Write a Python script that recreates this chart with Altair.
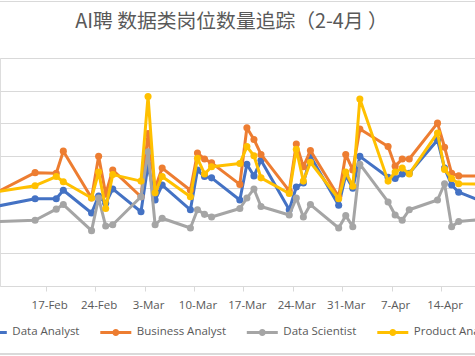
import altair as alt
import pandas as pd

dates = ["2019-02-08", "2019-02-15", "2019-02-18", "2019-02-19", "2019-02-23", "2019-02-24", "2019-02-25", "2019-02-26",
         "2019-03-02", "2019-03-03", "2019-03-04", "2019-03-05", "2019-03-09", "2019-03-10", "2019-03-11", "2019-03-12",
         "2019-03-16", "2019-03-17", "2019-03-18", "2019-03-19", "2019-03-23", "2019-03-24", "2019-03-25", "2019-03-26",
         "2019-03-30", "2019-03-31", "2019-04-01", "2019-04-02", "2019-04-06", "2019-04-07", "2019-04-08", "2019-04-09",
         "2019-04-13", "2019-04-14", "2019-04-15", "2019-04-16", "2019-04-20"]

data_analyst = [119, 134, 134, 147, 112, 138, 127, 149, 114, 186, 132, 155, 117, 178, 168, 166,
                132, 187, 169, 193, 117, 152, 158, 199, 124, 170, 150, 199, 167, 165, 172, 173,
                224, 181, 155, 144, 127]
business_analyst = [135, 174, 173, 207, 135, 199, 141, 178, 137, 234, 150, 181, 147, 204, 195, 189,
                    156, 243, 225, 202, 146, 218, 183, 208, 137, 202, 178, 241, 214, 184, 195, 195,
                    250, 213, 173, 169, 169]
data_scientist = [98, 101, 118, 125, 85, 135, 92, 94, 137, 206, 94, 104, 89, 117, 110, 106,
                  119, 135, 149, 122, 109, 135, 106, 125, 89, 108, 91, 187, 129, 109, 101, 117,
                  132, 157, 91, 99, 103]
product_analyst = [142, 154, 168, 160, 135, 175, 119, 171, 161, 291, 143, 168, 137, 196, 172, 183,
                   188, 214, 200, 166, 142, 210, 161, 190, 134, 175, 153, 287, 161, 175, 181, 172,
                   235, 179, 165, 157, 156]

series_names = ["Data Analyst", "Business Analyst", "Data Scientist", "Product Analyst"]
series_values = [data_analyst, business_analyst, data_scientist, product_analyst]
colors = ["#4472C4", "#ED7D31", "#A5A5A5", "#FFC000"]

tick_dates = [("feb", 10), ("feb", 17), ("feb", 24), ("mar", 3), ("mar", 10), ("mar", 17),
              ("mar", 24), ("mar", 31), ("apr", 7), ("apr", 14), ("apr", 21)]
y_grid = [50, 100, 150, 200, 250, 300, 350]

title_text = "AI聘 数据类岗位数量追踪（2-4月 ）"

rows = []
for name, vals in zip(series_names, series_values):
    for d, v in zip(dates, vals):
        rows.append({"date": d, "series": name, "count": v})
df = pd.DataFrame(rows)

GRAY = "#D9D9D9"
TXT = "#595959"

x_enc = alt.X(
    "date:T",
    scale=alt.Scale(
        type="utc",
        domain=[alt.DateTime(year=2019, month="feb", date=10, hours=0, minutes=45, utc=True),
                alt.DateTime(year=2019, month="apr", date=18, hours=7, minutes=25, utc=True)],
    ),
    axis=alt.Axis(
        values=[alt.DateTime(year=2019, month=m, date=d, utc=True) for m, d in tick_dates],
        labelExpr="utcFormat(datum.value, '%-d-%b')",
        title=None, grid=False, domainColor=GRAY, domainWidth=1, tickColor=GRAY,
        tickSize=5, tickOffset=-3.5, labelOffset=3.5, labelPadding=8,
        labelFont="Open Sans", labelFontSize=11.5, labelColor=TXT, labelFlush=False,
        labelOverlap=False,
    ),
)
y_enc = alt.Y(
    "count:Q",
    scale=alt.Scale(domain=[0, 350], nice=False, zero=True),
    axis=alt.Axis(values=y_grid, labels=False, ticks=False, domain=False, title=None,
                  grid=True, gridColor=GRAY, gridWidth=1),
)

legend_path = "M-1,0H1M0.13,0A0.13,0.13,0,1,1,-0.13,0A0.13,0.13,0,1,1,0.13,0"
color_enc = alt.Color(
    "series:N",
    scale=alt.Scale(domain=series_names, range=colors),
    sort=series_names,
    legend=alt.Legend(
        title=None, orient="none", legendX=-25.7, legendY=257, direction="horizontal",
        columns=4, columnPadding=13.5, symbolType=legend_path, symbolSize=961,
        symbolStrokeWidth=3, labelOffset=4, labelFont="Open Sans", labelFontSize=11.5,
        labelColor=TXT, labelLimit=300,
    ),
)

layers = []
for name in series_names:
    base = alt.Chart(df).transform_filter(alt.datum.series == name)
    layers.append(base.mark_line(strokeWidth=3, strokeJoin="round", strokeCap="round")
                  .encode(x=x_enc, y=y_enc, color=color_enc))
    layers.append(base.mark_circle(size=50, opacity=1)
                  .encode(x=x_enc, y=y_enc, color=color_enc))

border_top = alt.Chart(df).mark_rule(color=GRAY, strokeWidth=1).encode(
    x=alt.value(-10), x2=alt.value(490), y=alt.value(-56.5))
border_bottom = alt.Chart(df).mark_rule(color=GRAY, strokeWidth=1).encode(
    x=alt.value(-10), x2=alt.value(490), y=alt.value(296))

chart = alt.layer(*layers, border_top, border_bottom).properties(
    width=475, height=228,
    autosize=alt.AutoSizeParams(type="none"),
    padding={"left": 0, "top": 58, "right": 0, "bottom": 70},
    title=alt.TitleParams(title_text, font="Noto Sans CJK SC", fontSize=19.8, fontWeight="normal",
                          color=TXT, anchor="middle", dx=-6, offset=-47, baseline="alphabetic"),
).configure_view(stroke=None).configure(background="white")

chart.save("out.html", embed_options={"renderer": "svg", "actions": False})
